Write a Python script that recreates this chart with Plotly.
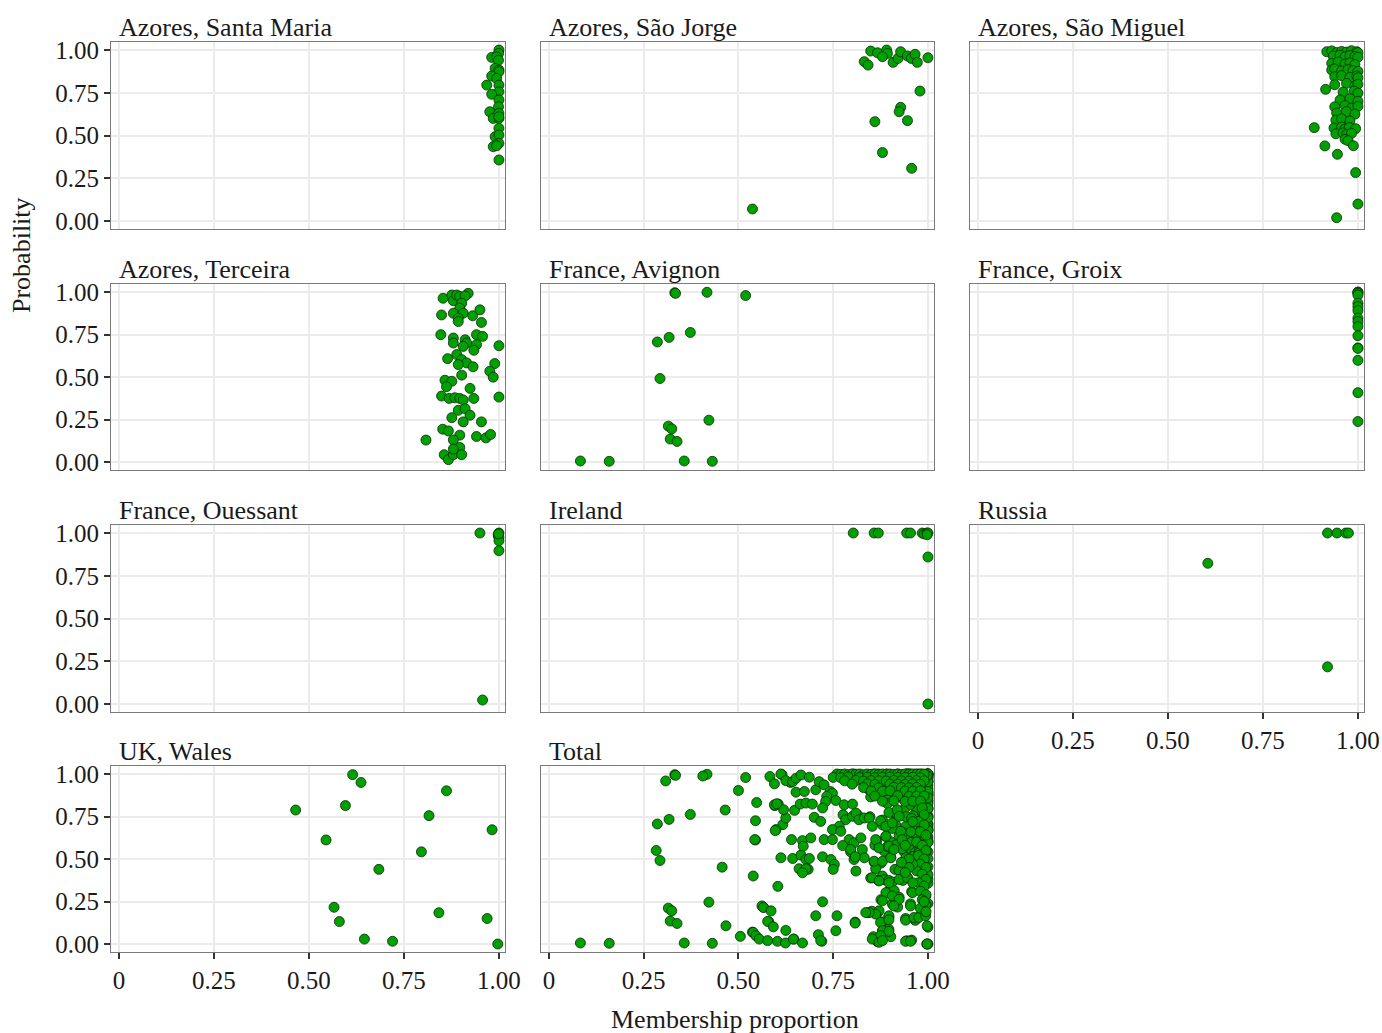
import plotly.graph_objects as go

# ---------------- data ----------------
panel_names = ["Azores, Santa Maria", "Azores, São Jorge", "Azores, São Miguel",
               "Azores, Terceira", "France, Avignon", "France, Groix",
               "France, Ouessant", "Ireland", "Russia", "UK, Wales", "Total"]

x_ticks = [0, 0.25, 0.5, 0.75, 1.0]
x_tick_labels = ["0", "0.25", "0.50", "0.75", "1.00"]
y_ticks = [0, 0.25, 0.5, 0.75, 1.0]
y_tick_labels = ["0.00", "0.25", "0.50", "0.75", "1.00"]

santa_maria_x = [1.0, 0.999, 0.981, 0.994, 0.999, 0.99, 1.0, 1.0, 0.981, 0.994, 0.968, 1.0, 1.0, 0.981,
                 1.0, 0.999, 0.976, 1.0, 0.985, 1.0, 1.0, 1.0, 0.99, 1.0, 1.0, 0.985, 0.994, 1.0]
santa_maria_y = [1.0, 0.98, 0.957, 0.96, 0.94, 0.893, 0.883, 0.873, 0.848, 0.834, 0.795, 0.795, 0.756, 0.741,
                 0.708, 0.668, 0.639, 0.63, 0.60, 0.60, 0.61, 0.542, 0.493, 0.503, 0.454, 0.435, 0.44, 0.357]

sao_jorge_x = [0.849, 0.867, 0.891, 0.893, 0.88, 0.832, 0.842, 0.908, 0.921, 0.928, 0.946, 0.956, 0.966,
               0.972, 1.0, 0.979, 0.928, 0.924, 0.86, 0.946, 0.88, 0.957, 0.537]
sao_jorge_y = [0.994, 0.984, 1.0, 0.98, 0.961, 0.932, 0.912, 0.928, 0.951, 0.99, 0.965, 0.951, 0.975,
               0.928, 0.955, 0.76, 0.665, 0.639, 0.581, 0.587, 0.40, 0.308, 0.07]

sao_miguel_x = [0.918, 0.931, 0.944, 0.957, 0.97, 0.983, 0.997, 1.0,
                0.935, 0.953, 0.966, 0.979, 0.992, 1.0,
                0.931, 0.948, 0.966, 0.979, 0.992,
                0.931, 0.939, 0.957, 0.974, 0.987, 1.0,
                0.939, 0.957, 0.979, 0.997, 1.0,
                0.939, 0.97, 0.992, 1.0,
                0.961, 0.99, 1.0,
                0.953, 0.979, 1.0,
                0.939, 0.966, 0.983, 1.0,
                0.944, 0.97, 0.992,
                0.942, 0.957, 0.979,
                0.937, 0.957, 0.966, 0.977, 0.994,
                0.942, 0.961, 0.97, 0.983,
                0.966, 0.974,
                0.885, 0.913, 0.946, 0.988, 0.994, 1.0, 0.944, 0.915]
sao_miguel_y = [0.99, 0.995, 0.985, 0.992, 0.988, 0.996, 0.99, 0.985,
                0.965, 0.97, 0.96, 0.968, 0.962, 0.958,
                0.922, 0.93, 0.918, 0.925, 0.915,
                0.883, 0.89, 0.878, 0.886, 0.88, 0.875,
                0.844, 0.85, 0.84, 0.848, 0.838,
                0.797, 0.805, 0.79, 0.8,
                0.754, 0.76, 0.748,
                0.708, 0.715, 0.70,
                0.668, 0.675, 0.66, 0.67,
                0.632, 0.64, 0.625,
                0.59, 0.598, 0.585,
                0.544, 0.55, 0.538, 0.547, 0.54,
                0.51, 0.515, 0.505, 0.512,
                0.478, 0.47,
                0.546, 0.439, 0.39, 0.44, 0.283, 0.099, 0.019, 0.77]

terceira_x = [0.853, 0.876, 0.88, 0.889, 0.897, 0.919, 0.911, 0.902, 0.897, 0.88, 0.849, 0.906, 0.893,
              0.893, 0.931, 0.95, 0.954, 0.847, 0.88, 0.88, 0.911, 0.915, 0.906, 0.941, 0.957, 0.941,
              0.934, 1.0, 0.889, 0.865, 0.902, 0.915, 0.893, 0.932, 0.989, 0.976, 0.985, 0.902, 0.858,
              0.876, 0.862, 0.924, 0.849, 0.869, 0.884, 0.897, 0.906, 0.934, 1.0, 0.893, 0.911, 0.924,
              0.876, 0.906, 0.954, 0.852, 0.867, 0.897, 0.88, 0.941, 0.966, 0.978, 0.808, 0.856, 0.867,
              0.88, 0.897, 0.902, 0.88]
terceira_y = [0.963, 0.982, 0.949, 0.982, 0.973, 0.992, 0.977, 0.934, 0.905, 0.875, 0.865, 0.875, 0.846,
              0.826, 0.86, 0.895, 0.821, 0.749, 0.729, 0.70, 0.719, 0.70, 0.68, 0.749, 0.739, 0.69,
              0.657, 0.684, 0.632, 0.608, 0.602, 0.583, 0.573, 0.56, 0.579, 0.534, 0.499, 0.511, 0.481,
              0.475, 0.443, 0.433, 0.388, 0.374, 0.378, 0.374, 0.365, 0.374, 0.382, 0.304, 0.314, 0.275,
              0.261, 0.236, 0.236, 0.193, 0.183, 0.158, 0.13, 0.15, 0.142, 0.162, 0.129, 0.043, 0.014,
              0.043, 0.086, 0.043, 0.076]

avignon_x = [0.332, 0.334, 0.417, 0.519, 0.373, 0.317, 0.286, 0.293, 0.422, 0.315, 0.324, 0.32, 0.338,
             0.083, 0.159, 0.357, 0.431]
avignon_y = [0.996, 0.992, 0.998, 0.979, 0.762, 0.733, 0.706, 0.491, 0.246, 0.211, 0.195, 0.135, 0.121,
             0.006, 0.004, 0.006, 0.004]

groix_x = [1.0, 1.0, 1.0, 1.0, 1.0, 1.0, 1.0, 1.0, 1.0, 1.0, 1.0, 1.0, 1.0, 1.0, 1.0, 1.0]
groix_y = [1.0, 0.998, 0.992, 0.982, 0.934, 0.914, 0.891, 0.846, 0.826, 0.797, 0.743, 0.671, 0.668,
           0.598, 0.408, 0.238]

ouessant_x = [0.95, 1.0, 0.998, 1.0, 1.0, 1.0, 0.957, 0.999]
ouessant_y = [1.0, 1.0, 0.988, 0.975, 0.955, 0.897, 0.023, 0.995]

ireland_x = [0.803, 0.858, 0.869, 0.944, 0.954, 0.985, 0.99, 0.997, 1.0, 0.998, 1.0, 1.0]
ireland_y = [1.0, 1.0, 1.0, 1.0, 1.0, 1.0, 0.995, 1.0, 1.0, 0.99, 0.86, 0.0]

russia_x = [0.92, 0.945, 0.968, 0.975, 0.605, 0.92]
russia_y = [1.0, 1.0, 1.0, 1.0, 0.823, 0.217]

wales_x = [0.465, 0.615, 0.637, 0.596, 0.862, 0.816, 0.982, 0.545, 0.796, 0.684, 0.566, 0.58, 0.842,
           0.969, 0.646, 0.72, 0.997]
wales_y = [0.788, 0.996, 0.95, 0.814, 0.901, 0.755, 0.672, 0.612, 0.542, 0.439, 0.216, 0.132, 0.184,
           0.15, 0.029, 0.016, 0.0]

# individuals from the remaining populations (appear only in the Total panel)
other_x = [0.283, 0.308, 0.406, 0.457, 0.467, 0.50, 0.505,
           0.548, 0.545, 0.543, 0.539, 0.604, 0.612,
           0.539, 0.546, 0.555, 0.562, 0.566, 0.586, 0.577, 0.592, 0.625, 0.577, 0.603, 0.624, 0.645,
           0.669, 0.704, 0.711, 0.717, 0.722, 0.76, 0.757, 0.808,
           0.643, 0.665, 0.678, 0.687, 0.66, 0.678, 0.669,
           0.64, 0.669, 0.691, 0.671,
           0.617, 0.599, 0.597, 0.625, 0.619, 0.648,
           0.595, 0.601, 0.663, 0.678, 0.695, 0.70, 0.717, 0.726, 0.748, 0.722, 0.744, 0.753, 0.75,
           0.583, 0.612, 0.595, 0.625, 0.643, 0.652, 0.665, 0.687, 0.652, 0.674, 0.704, 0.713, 0.726,
           0.742, 0.748, 0.733, 0.73, 0.722, 0.757, 0.779, 0.801,
           0.776, 0.783, 0.801, 0.81, 0.818, 0.832, 0.845, 0.766, 0.748, 0.77, 0.792, 0.805, 0.823,
           0.775, 0.796, 0.827, 0.805, 0.832,
           0.862, 0.853, 0.875, 0.889, 0.897, 0.906, 0.919, 0.924, 0.928, 0.932, 0.889, 0.871, 0.897,
           0.858, 0.88, 0.902, 0.91,
           0.853, 0.871, 0.897, 0.924, 0.946, 0.889, 0.906, 0.924, 0.88, 0.91, 0.871, 0.897, 0.862,
           0.845, 0.836, 0.875, 0.897, 0.941, 0.967, 0.963, 0.976, 0.88, 0.897, 0.875, 0.853, 0.871,
           0.88, 0.941, 0.954, 0.959, 0.954, 0.994, 0.998, 0.998, 0.81, 0.808,
           0.76, 0.77, 0.78, 0.79, 0.80, 0.81, 0.82, 0.83, 0.84, 0.85, 0.86, 0.87, 0.88, 0.89, 0.90,
           0.91, 0.92, 0.93, 0.94, 0.95, 0.96, 0.97, 0.98, 0.99,
           0.75, 0.77, 0.79, 0.82, 0.84, 0.86, 0.88, 0.90, 0.92, 0.94, 0.96, 0.98,
           0.78, 0.81, 0.83, 0.85, 0.87, 0.89, 0.91, 0.93, 0.95, 0.97, 0.99,
           0.80, 0.84, 0.86, 0.90, 0.92, 0.94, 0.96, 0.98,
           0.83, 0.87, 0.91, 0.93, 0.95, 0.97,
           0.85, 0.88, 0.90, 0.94, 0.96, 0.98,
           0.86, 0.92, 0.95, 0.97, 0.99,
           0.88, 0.91, 0.94, 0.96, 0.98,
           0.985, 0.99, 0.975, 0.99, 0.98, 0.995, 0.97, 0.985, 0.995, 0.975, 0.99, 0.98, 0.995, 0.97,
           0.985, 0.995, 0.975, 0.99, 0.98, 0.995, 0.985, 0.995, 0.98, 0.995, 0.99, 0.96, 0.95, 0.955,
           0.96, 0.94, 0.95, 0.93, 0.94, 0.96]
other_y = [0.55, 0.959, 0.988, 0.452, 0.107, 0.903, 0.045,
           0.832, 0.725, 0.614, 0.40, 0.339, 0.507,
           0.068, 0.049, 0.029, 0.224, 0.215, 0.195, 0.133, 0.101, 0.08, 0.02, 0.016, 0.006, 0.029,
           0.006, 0.166, 0.055, 0.02, 0.248, 0.166, 0.078, 0.123,
           0.503, 0.523, 0.497, 0.503, 0.443, 0.443, 0.419,
           0.614, 0.608, 0.624, 0.575,
           0.702, 0.673, 0.667, 0.741, 0.79, 0.786,
           0.819, 0.825, 0.823, 0.829, 0.823, 0.745, 0.721, 0.614, 0.614, 0.513, 0.497, 0.468, 0.439,
           0.985, 1.0, 0.942, 0.961, 0.955, 0.975, 0.994, 0.981, 0.893, 0.897, 0.907, 0.955, 0.936,
           0.897, 0.887, 0.868, 0.838, 0.80, 0.844, 0.819, 0.823,
           0.76, 0.731, 0.751, 0.77, 0.731, 0.741, 0.741, 0.692, 0.673, 0.663, 0.614, 0.595, 0.624,
           0.579, 0.556, 0.556, 0.497, 0.507,
           0.614, 0.692, 0.725, 0.692, 0.774, 0.712, 0.79, 0.751, 0.663, 0.614, 0.634, 0.565, 0.575,
           0.487, 0.487, 0.507, 0.556,
           0.39, 0.371, 0.361, 0.38, 0.39, 0.302, 0.283, 0.263, 0.254, 0.224, 0.195, 0.166, 0.176,
           0.185, 0.185, 0.127, 0.142, 0.14, 0.14, 0.156, 0.156, 0.078, 0.074, 0.049, 0.029, 0.01,
           0.02, 0.016, 0.016, 0.302, 0.224, 0.166, 0.107, 0.0, 0.429, 0.513,
           1.0, 0.998, 1.0, 0.997, 1.0, 0.999, 1.0, 0.996, 1.0, 0.998, 1.0, 0.997, 1.0, 0.999, 1.0,
           0.998, 1.0, 0.997, 1.0, 0.999, 1.0, 0.998, 1.0, 0.999,
           0.98, 0.978, 0.982, 0.979, 0.981, 0.978, 0.98, 0.982, 0.979, 0.98, 0.981, 0.978,
           0.96, 0.962, 0.958, 0.961, 0.96, 0.959, 0.962, 0.96, 0.958, 0.961, 0.96,
           0.94, 0.942, 0.938, 0.941, 0.94, 0.939, 0.942, 0.94,
           0.92, 0.918, 0.922, 0.92, 0.919, 0.921,
           0.90, 0.898, 0.902, 0.90, 0.899, 0.901,
           0.87, 0.872, 0.868, 0.87, 0.871,
           0.84, 0.842, 0.838, 0.84, 0.841,
           0.80, 0.76, 0.72, 0.70, 0.66, 0.64, 0.60, 0.58, 0.55, 0.52, 0.50, 0.47, 0.45, 0.43,
           0.41, 0.38, 0.36, 0.34, 0.31, 0.29, 0.26, 0.23, 0.21, 0.19, 0.25, 0.47, 0.50, 0.66,
           0.72, 0.58, 0.45, 0.48, 0.42, 0.36]

panel_x = [santa_maria_x, sao_jorge_x, sao_miguel_x, terceira_x, avignon_x, groix_x,
           ouessant_x, ireland_x, russia_x, wales_x]
panel_y = [santa_maria_y, sao_jorge_y, sao_miguel_y, terceira_y, avignon_y, groix_y,
           ouessant_y, ireland_y, russia_y, wales_y]

total_x = sum(panel_x, []) + other_x
total_y = sum(panel_y, []) + other_y
panel_x.append(total_x)
panel_y.append(total_y)

# ---------------- layout ----------------
W, H = 1382, 1033
col_px = [(111, 505), (541, 934), (970, 1364)]
row_px = [(42, 229), (284, 470), (525, 712), (766, 952)]
FONT = "Liberation Serif, Times New Roman, serif"


def px_x(p):
    return p / W


def px_y(p):
    return 1 - p / H


fig = go.Figure()
layout = dict(width=W, height=H, margin=dict(l=0, r=0, t=0, b=0, autoexpand=False),
              paper_bgcolor="white", plot_bgcolor="white", showlegend=False,
              font=dict(family=FONT, size=25, color="#1a1a1a"))
annotations = []

bottom_panels = {8, 9, 10}
left_panels = {0, 3, 6, 9}

for i, name in enumerate(panel_names):
    r, c = divmod(i, 3)
    x0, x1 = col_px[c]
    y0, y1 = row_px[r]
    xa = "xaxis" if i == 0 else f"xaxis{i+1}"
    ya = "yaxis" if i == 0 else f"yaxis{i+1}"
    xr = "x" if i == 0 else f"x{i+1}"
    yr = "y" if i == 0 else f"y{i+1}"
    showx = i in bottom_panels
    showy = i in left_panels
    layout[xa] = dict(domain=[px_x(x0), px_x(x1)], anchor=yr, range=[-0.021, 1.016],
                      tickvals=x_ticks, ticktext=x_tick_labels, showticklabels=showx,
                      ticks="outside" if showx else "", ticklen=6, tickwidth=1.5, tickcolor="#333333",
                      showgrid=True, gridcolor="#ebebeb", gridwidth=1.5, zeroline=False,
                      showline=True, linecolor="#7a7a7a", linewidth=1, mirror=True, automargin=False,
                      tickfont=dict(family=FONT, size=25, color="#1a1a1a"), fixedrange=True)
    layout[ya] = dict(domain=[px_y(y1), px_y(y0)], anchor=xr, range=[-0.047, 1.047],
                      tickvals=y_ticks, ticktext=y_tick_labels, showticklabels=showy,
                      ticks="outside" if showy else "", ticklen=6, tickwidth=1.5, tickcolor="#333333",
                      showgrid=True, gridcolor="#ebebeb", gridwidth=1.5, zeroline=False,
                      showline=True, linecolor="#7a7a7a", linewidth=1, mirror=True, automargin=False,
                      tickfont=dict(family=FONT, size=25, color="#1a1a1a"), fixedrange=True)
    fig.add_trace(go.Scatter(x=panel_x[i], y=panel_y[i], mode="markers", xaxis=xr, yaxis=yr,
                             marker=dict(size=10, color="#00a000",
                                         line=dict(width=0.8, color="#0a2a0a")),
                             hoverinfo="skip"))
    annotations.append(dict(text=name, x=px_x(x0 + 6), y=px_y(y0 + 2), xref="paper", yref="paper",
                            xanchor="left", yanchor="bottom", showarrow=False,
                            font=dict(family=FONT, size=26, color="#1a1a1a")))

annotations.append(dict(text="Membership proportion", x=px_x(735), y=px_y(1019), xref="paper",
                        yref="paper", xanchor="center", yanchor="middle", showarrow=False,
                        font=dict(family=FONT, size=26, color="#1a1a1a")))
annotations.append(dict(text="Probability", x=px_x(22), y=px_y(255), xref="paper", yref="paper",
                        xanchor="center", yanchor="middle", showarrow=False, textangle=-90,
                        font=dict(family=FONT, size=26, color="#1a1a1a")))
layout["annotations"] = annotations
fig.update_layout(**layout)

# place the figure at the page's top-left corner with no scrollbars
page_fix = ("document.body.style.margin='0';document.body.style.overflow='hidden';"
            "document.documentElement.style.overflow='hidden';")
fig.write_html("out.html", post_script=page_fix, config={"displayModeBar": False})
